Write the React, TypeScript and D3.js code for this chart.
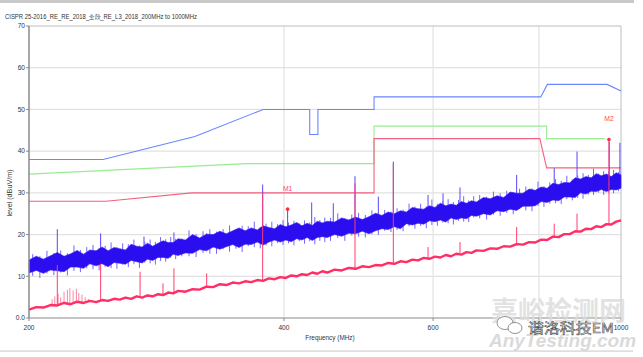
import React from "react";
import * as d3 from "d3";

const TITLE = "CISPR 25-2016_RE_RE_2018_全段_RE_L3_2018_200MHz to 1000MHz";
const Y_TICKS = [0, 10, 20, 30, 40, 50, 60, 70];
const X_TICKS = [200, 400, 600, 1000];
const X_GRID = [400, 600, 800];

// frequency grid of the sampled traces (MHz)
const FREQS = [
  200, 204, 208, 212, 216, 220, 224, 228, 232, 236, 240, 244, 248, 252, 256, 260, 264, 268, 272, 276, 280, 284, 288, 292, 296,
  300, 306, 312, 318, 324, 330, 336, 342, 348, 354, 360, 366, 372, 378, 384, 390, 396, 402, 408, 414, 420, 426, 432, 438, 444,
  450, 459, 468, 477, 486, 495, 504, 513, 522, 531, 540, 549, 558, 567, 576, 585, 594, 603, 612, 621, 630, 639, 648, 657, 666,
  675, 688, 701, 714, 727, 740, 753, 766, 779, 792, 805, 818, 831, 844, 857, 870, 883, 896, 909, 922, 935, 948, 961, 974, 987, 1000,
];

// peak trace: upper / lower envelope of the dense band (dBuV/m)
const PEAK_HI = [
  13.9, 14.8, 14.1, 14.9, 15.7, 14.8, 15.4, 16.2, 15.3, 16.3, 16.1, 17.0, 16.1, 16.9, 16.6, 16.3, 17.7, 17.2, 17.0, 17.9, 17.2, 17.9, 18.5, 18.1, 18.1,
  19.0, 18.7, 20.0, 19.2, 20.1, 20.0, 20.8, 20.2, 20.9, 21.6, 20.9, 21.6, 21.1, 22.1, 21.7, 21.4, 22.4, 21.9, 22.3, 22.9, 22.1, 22.7, 22.2, 23.2, 22.8,
  23.2, 23.0, 24.0, 23.5, 24.2, 23.6, 24.3, 25.1, 24.6, 25.4, 25.0, 25.7, 25.4, 26.5, 26.2, 26.1, 26.9, 26.5, 27.5, 26.9, 27.3, 27.0, 27.9, 27.5, 28.1,
  27.8, 28.9, 28.6, 29.3, 28.9, 30.2, 29.9, 29.9, 30.9, 30.6, 31.4, 31.1, 32.3, 32.0, 32.5, 32.4, 33.6, 33.3, 33.9, 33.6, 34.6, 34.1, 34.5, 33.9, 34.8, 34.3,
];
const PEAK_LO = [
  10.8, 11.4, 10.7, 11.5, 11.3, 11.1, 12.2, 12.2, 11.9, 13.0, 12.5, 13.0, 12.3, 13.3, 13.1, 12.9, 13.8, 13.5, 13.2, 14.1, 13.8, 14.5, 14.5, 14.3, 15.3,
  15.0, 15.6, 15.5, 16.4, 16.1, 17.0, 16.5, 17.1, 17.6, 16.9, 17.7, 17.6, 18.2, 17.5, 18.2, 18.7, 18.2, 18.7, 18.3, 19.0, 18.7, 19.3, 18.6, 19.3, 19.5,
  19.3, 20.0, 19.6, 20.3, 20.2, 20.8, 20.2, 20.9, 21.4, 21.2, 21.9, 21.4, 22.6, 22.3, 22.7, 22.5, 23.3, 23.1, 23.5, 23.0, 24.0, 23.6, 24.0, 23.8, 24.6,
  24.4, 25.0, 24.7, 25.7, 25.5, 26.1, 25.8, 26.8, 26.8, 26.9, 27.9, 27.7, 28.3, 28.1, 29.0, 29.0, 28.9, 30.0, 29.7, 30.4, 30.3, 30.8, 30.3, 30.8, 30.7, 31.1,
];

// noise needles of the peak trace poking out of the band: [freq, top, bottom]
const PEAK_NEEDLES: [number, number, number][] = [
  [202, 15.3, 10.1], [206, 14.8, 9.6], [210, 16.1, 10.7], [214, 15.6, 10.3], [218, 16.2, 10.9], [222, 15.5, 10.2], [226, 17.4, 11.3],
  [230, 16.3, 11.0], [234, 17.0, 11.9], [238, 17.5, 11.7], [242, 16.8, 11.4], [246, 17.3, 12.3], [250, 18.1, 12.0], [254, 17.0, 11.8],
  [258, 17.9, 12.8], [262, 17.7, 12.2], [266, 18.8, 12.9], [270, 17.4, 12.0], [274, 18.3, 13.3], [278, 18.8, 13.1], [282, 18.2, 12.8],
  [286, 19.4, 13.7], [290, 18.9, 13.5], [294, 19.4, 14.4], [298, 19.0, 14.1],
  [303, 19.1, 14.8], [309, 21.0, 14.8], [315, 20.1, 14.6], [321, 20.8, 15.6], [327, 21.3, 15.4], [333, 20.7, 15.4], [339, 21.3, 16.5],
  [345, 22.2, 15.9], [351, 21.2, 16.6], [357, 22.1, 15.8], [363, 22.0, 17.2], [369, 23.1, 17.0], [375, 21.8, 16.7], [381, 22.6, 17.4],
  [387, 23.1, 17.2], [393, 22.5, 18.0], [399, 23.5, 17.5], [405, 22.9, 17.9], [411, 23.3, 17.4], [417, 22.7, 18.4], [423, 23.4, 17.8],
  [429, 22.9, 18.4], [435, 24.2, 17.7], [441, 23.5, 18.5], [447, 24.1, 18.2],
  [454, 24.0, 18.5], [463, 25.1, 19.2], [472, 23.9, 18.5], [481, 24.8, 19.8], [490, 25.2, 19.5], [499, 24.7, 19.3], [508, 25.8, 20.1],
  [517, 25.3, 19.9], [526, 25.9, 20.9], [535, 25.5, 20.6], [544, 26.3, 21.1], [553, 26.0, 20.8], [562, 27.4, 22.0], [571, 26.7, 21.4],
  [580, 27.4, 22.1], [589, 26.8, 21.5], [598, 28.4, 22.3], [607, 27.4, 22.1], [616, 28.0, 22.9], [625, 28.5, 22.7], [634, 27.8, 22.4],
  [643, 28.3, 23.3], [652, 29.2, 23.1], [661, 28.2, 23.0], [670, 29.2, 24.1],
  [681, 29.5, 23.9], [694, 29.1, 23.6], [707, 30.3, 24.8], [720, 29.9, 24.5], [733, 30.5, 25.2], [746, 30.1, 24.9], [759, 31.0, 26.1],
  [772, 31.5, 25.8], [785, 31.1, 25.6], [798, 32.7, 26.9], [811, 31.6, 26.6], [824, 32.5, 27.4], [837, 33.3, 27.5], [850, 32.9, 27.3],
  [863, 34.1, 28.5], [876, 33.2, 28.2], [889, 34.2, 28.8], [902, 34.7, 28.6], [915, 34.3, 29.6], [928, 35.8, 29.5], [941, 34.6, 30.1],
  [954, 35.2, 29.5], [967, 35.1, 30.1], [980, 35.5, 29.9], [993, 35.0, 30.4],
];

// average trace (dBuV/m)
const AVERAGE = [
  2.0, 2.6, 2.5, 3.1, 3.0, 3.6, 3.3, 3.9, 3.6, 4.1, 3.8, 4.3, 4.1, 4.6, 4.4, 4.9, 4.6, 5.2, 4.9, 5.4, 5.2, 5.7, 5.5, 6.1, 5.9,
  6.5, 6.3, 6.9, 6.8, 7.5, 7.4, 8.1, 7.9, 8.5, 8.3, 8.8, 8.6, 9.1, 8.9, 9.5, 9.3, 9.8, 9.6, 10.2, 10.0, 10.5, 10.3, 10.9, 10.6, 11.2,
  10.9, 11.6, 11.4, 12.0, 11.8, 12.4, 12.2, 12.7, 12.6, 13.2, 13.0, 13.6, 13.4, 14.0, 13.8, 14.4, 14.2, 14.7, 14.5, 15.1, 14.8, 15.4, 15.2, 15.8, 15.6,
  16.2, 16.1, 16.7, 16.6, 17.2, 17.1, 17.7, 17.6, 18.2, 18.1, 18.8, 18.7, 19.5, 19.4, 20.1, 20.1, 20.8, 20.7, 21.4, 21.3, 22.0, 21.8, 22.5, 22.4, 23.1, 23.4,
];

// narrow emissions on the peak trace: [freq, top, base]
const PEAK_SPIKES: [number, number, number][] = [
  [216, 21.3, 13.0], [243, 20.3, 14.5], [273.4, 19.5, 15.4], [296.6, 20.5, 16.6], [324.2, 20.3, 18.0],
  [377.5, 32.0, 19.7], [404, 26.1, 20.2], [431.3, 27.7, 20.7], [457.4, 27.5, 21.3], [485.2, 34.0, 22.0],
  [517, 29.1, 22.7], [538.5, 37.5, 23.3], [591.8, 29.5, 24.6], [616.4, 29.9, 25.0], [645.5, 31.3, 25.6],
  [753, 34.3, 28.0], [834, 35.9, 30.0], [887.3, 39.9, 31.2], [968.5, 42.3, 32.4], [997, 42.0, 32.6],
];

// narrow emissions on the average trace: [freq, top, base]
const AVG_SPIKES: [number, number, number][] = [
  [216, 12.7, 3.2], [243, 13.0, 4.2], [270.5, 11.1, 5.0], [287.9, 8.3, 5.6], [296.6, 11.9, 6.1],
  [324.2, 10.7, 7.3], [377.5, 30.0, 9.1], [485.2, 32.3, 11.9], [538.5, 37.0, 13.2], [591.8, 17.0, 14.4],
  [645.5, 18.2, 15.4], [753, 21.8, 17.8], [834, 22.6, 19.5], [887.3, 25.0, 20.8], [967.8, 42.8, 22.6],
];

// broadband hump on the average trace: [freq, top, base]
const AVG_HUMP: [number, number, number][] = [
  [213, 4.5, 3.0], [214.5, 5.2, 3.1], [216.5, 5.8, 3.2], [218, 5.0, 3.3], [220, 6.3, 3.4], [222, 6.8, 3.4],
  [223.5, 7.2, 3.5], [225.5, 6.6, 3.6], [227.5, 7.0, 3.7], [229, 6.0, 3.7], [231, 5.6, 3.8], [233, 5.0, 3.9], [235, 4.6, 3.9],
];

const LIMIT_PEAK: [number, number][] = [
  [200, 38], [244.6, 38], [314, 43.5], [378, 50], [429, 50], [429, 44], [438.7, 44], [438.7, 50], [511, 50], [511, 53],
  [804, 53], [818.6, 56], [963, 56], [1000, 54.4],
];
const LIMIT_QP: [number, number][] = [
  [200, 34.5], [360.8, 37], [511, 37], [511, 46], [817, 46], [817, 43], [957, 43],
];
const LIMIT_AVG: [number, number][] = [
  [200, 28], [246.6, 28], [311.3, 30], [511, 30], [511, 43], [802, 43], [817, 36], [1000, 36],
];

const MARKERS = [
  { name: "M1", freq: 404, level: 26.1 },
  { name: "M2", freq: 967.8, level: 42.8 },
];

export default function App() {
  const W = 643, H = 357;
  const x = d3.scaleLog().domain([200, 1000]).range([29, 621]);
  const y = d3.scaleLinear().domain([0, 70]).range([318, 26]);
  const font = "'Liberation Sans', Arial, sans-serif";

  const lim = d3.line<[number, number]>().x((d) => x(d[0])).y((d) => y(d[1]));
  const band = d3
    .area<number>()
    .x((_, i) => x(FREQS[i]))
    .y0((_, i) => y(PEAK_LO[i]))
    .y1((_, i) => y(PEAK_HI[i]));
  const trace = d3
    .line<number>()
    .x((_, i) => x(FREQS[i]))
    .y((d) => y(d));

  return (
    <svg width={W} height={H} style={{ position: "absolute", left: 0, top: 0, background: "#fff" }}>
      <rect x={0} y={0} width={634} height={3} fill="#c9c9c9" />
      <rect x={0} y={350.5} width={633} height={1.2} fill="#d0d0d0" />
      <text x={5} y={19} fontFamily={font} fontSize={6.4} fill="#333" textLength={192} lengthAdjust="spacingAndGlyphs">
        {TITLE}
      </text>

      {/* grid */}
      {Y_TICKS.filter((t) => t > 0 && t < 70).map((t) => (
        <line key={"hg" + t} x1={29} x2={621} y1={y(t)} y2={y(t)} stroke="#e2e2e2" strokeWidth={1.2} />
      ))}
      {X_GRID.map((t) => (
        <line key={"vg" + t} x1={x(t)} x2={x(t)} y1={26} y2={318} stroke="#e2e2e2" strokeWidth={1.2} />
      ))}
      <line x1={29} x2={621} y1={26} y2={26} stroke="#bdbdbd" />
      <line x1={621} x2={621} y1={26} y2={318} stroke="#bdbdbd" />

      {/* limits */}
      <path d={lim(LIMIT_PEAK) || ""} fill="none" stroke="#6b86ff" strokeWidth={1.1} />
      <path d={lim(LIMIT_QP) || ""} fill="none" stroke="#98ec94" strokeWidth={1.1} />
      <path d={lim(LIMIT_AVG) || ""} fill="none" stroke="#f4607f" strokeWidth={1.1} />

      {/* peak trace */}
      {PEAK_SPIKES.map((s, i) => (
        <line key={"ps" + i} x1={x(s[0])} x2={x(s[0])} y1={y(s[1])} y2={y(s[2])} stroke="#5a44ff" strokeWidth={1} />
      ))}
      {PEAK_NEEDLES.map((s, i) => (
        <line key={"pn" + i} x1={x(s[0])} x2={x(s[0])} y1={y(s[1])} y2={y(s[2])} stroke="#7464ff" strokeWidth={1} />
      ))}
      <path d={band(FREQS) || ""} fill="#2a0ef0" stroke="#3a20f2" strokeWidth={0.6} />

      {/* average trace */}
      {AVG_HUMP.map((s, i) => (
        <line key={"ah" + i} x1={x(s[0])} x2={x(s[0])} y1={y(s[1])} y2={y(s[2])} stroke="#ff86a6" strokeWidth={1} />
      ))}
      {AVG_SPIKES.map((s, i) => (
        <line key={"as" + i} x1={x(s[0])} x2={x(s[0])} y1={y(s[1])} y2={y(s[2])} stroke="#ff3d6e" strokeWidth={1} />
      ))}
      <path d={trace(AVERAGE) || ""} fill="none" stroke="#ff2f66" strokeWidth={2.4} strokeLinejoin="round" />

      {/* markers */}
      {MARKERS.map((m) => (
        <g key={m.name}>
          <circle cx={x(m.freq)} cy={y(m.level)} r={1.8} fill="#ff2a3c" />
          <text x={x(m.freq)} y={y(m.level) - 18} textAnchor="middle" fontFamily={font} fontSize={6.8} fill="#ff4a55">
            {m.name}
          </text>
        </g>
      ))}

      {/* axes */}
      <line x1={29} x2={29} y1={26} y2={318} stroke="#8a8a8a" strokeWidth={1.5} />
      <line x1={29} x2={621} y1={318} y2={318} stroke="#8a8a8a" strokeWidth={1.2} />
      {Y_TICKS.map((t) => (
        <g key={"yt" + t}>
          <line x1={26} x2={29} y1={y(t)} y2={y(t)} stroke="#8a8a8a" />
          <text x={25} y={y(t) + 2.3} textAnchor="end" fontFamily={font} fontSize={6.6} fill="#333">
            {t === 0 ? "0.0" : String(t)}
          </text>
        </g>
      ))}
      {[200, 400, 600, 800, 1000].map((t) => (
        <line key={"xtm" + t} x1={x(t)} x2={x(t)} y1={318} y2={321} stroke="#8a8a8a" />
      ))}
      {X_TICKS.map((t) => (
        <text key={"xt" + t} x={x(t)} y={329.5} textAnchor="middle" fontFamily={font} fontSize={6.6} fill="#333">
          {String(t)}
        </text>
      ))}
      <text x={330} y={340} textAnchor="middle" fontFamily={font} fontSize={6.4} fill="#333">
        Frequency (MHz)
      </text>
      <text
        transform={`translate(12,${193}) rotate(-90)`}
        textAnchor="middle"
        fontFamily={font}
        fontSize={7.2}
        fill="#333"
      >
        level (dBuV/m)
      </text>

      {/* watermark */}
      <text x={491} y={321} fontFamily="'Noto Sans CJK SC', sans-serif" fontSize={27} fontWeight={700} fill="#dcdcdc" opacity={0.8}>
        嘉峪检测网
      </text>
      <text x={489} y={347} fontFamily={font} fontSize={19} fontStyle="italic" fontWeight={700} fill="#d4d4d4" opacity={0.85}>
        AnyTesting.com
      </text>
      <ellipse cx={505} cy={323} rx={8} ry={6.5} fill="#fff" stroke="#777" strokeWidth={0.8} />
      <ellipse cx={515} cy={328} rx={7} ry={5.5} fill="#fff" stroke="#777" strokeWidth={0.8} />
      <text x={528} y={333} fontFamily="'Noto Sans CJK SC', sans-serif" fontSize={13.5} fill="#fff" stroke="#555" strokeWidth={0.6}
        textLength={86} lengthAdjust="spacingAndGlyphs">
        谐洛科技EM
      </text>
    </svg>
  );
}
